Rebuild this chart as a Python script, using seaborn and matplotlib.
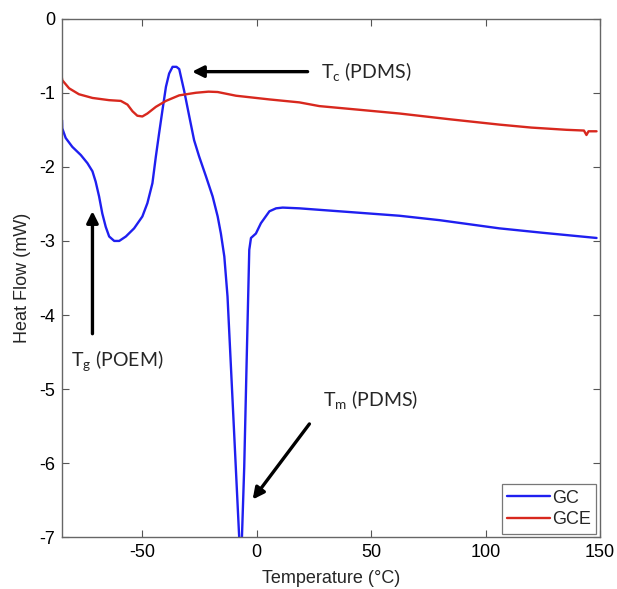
import matplotlib.pyplot as plt
import numpy as np
import pandas as pd
import seaborn as sns

# GC trace (blue)
gc_temp = [-85.0, -84.9, -83.4, -80.5, -76.8, -73.9, -71.7, -70.3, -68.8, -67.4,
           -65.9, -64.4, -62.2, -60.0, -57.1, -53.5, -49.9, -47.7, -45.5, -44.0,
           -42.6, -41.1, -39.6, -38.2, -36.7, -35.0, -33.8, -31.6, -29.4, -27.3,
           -25.1, -22.1, -19.2, -17.0, -15.6, -14.1, -12.7, -10.5, -8.75, -7.6,
           -7.0, -6.4, -5.4, -4.4, -3.2, -2.45, -0.3, 1.9, 5.6, 8.5,
           11.4, 18.7, 27.4, 45.0, 62.4, 80.0, 106.0, 125.0, 148.5]
gc_flow = [-1.37, -1.48, -1.61, -1.73, -1.84, -1.95, -2.06, -2.20, -2.40, -2.63,
           -2.81, -2.94, -3.00, -3.00, -2.94, -2.83, -2.67, -2.49, -2.22, -1.86,
           -1.55, -1.23, -0.92, -0.74, -0.65, -0.65, -0.68, -0.98, -1.32, -1.64,
           -1.86, -2.13, -2.40, -2.67, -2.90, -3.21, -3.75, -5.15, -6.27, -7.00,
           -7.30, -7.00, -6.05, -4.70, -3.12, -2.96, -2.90, -2.76, -2.60, -2.56,
           -2.55, -2.56, -2.58, -2.62, -2.66, -2.72, -2.83, -2.89, -2.96]

# GCE trace (red)
gce_temp = [-85.1, -84.9, -81.9, -77.6, -71.7, -64.4, -59.3, -56.4, -54.2, -52.1,
            -49.9, -47.7, -44.0, -39.6, -33.8, -26.5, -21.0, -17.0, -9.0, 5.6,
            18.7, 27.4, 45.0, 62.4, 85.0, 106.1, 120.0, 135.3, 143.0, 144.1,
            145.0, 148.5]
gce_flow = [-0.79, -0.83, -0.94, -1.02, -1.07, -1.10, -1.11, -1.16, -1.25, -1.31,
            -1.32, -1.28, -1.19, -1.11, -1.035, -1.00, -0.985, -0.99, -1.04, -1.09,
            -1.13, -1.18, -1.23, -1.28, -1.36, -1.43, -1.47, -1.50, -1.51, -1.57,
            -1.52, -1.52]

series_names = ["GC", "GCE"]
colors = {"GC": "#1f1ff0", "GCE": "#d8281e"}

x_ticks = [-50, 0, 50, 100, 150]
y_ticks = [0, -1, -2, -3, -4, -5, -6, -7]

df = pd.concat([
    pd.DataFrame({"Temperature": gc_temp, "Heat Flow": gc_flow, "sample": "GC"}),
    pd.DataFrame({"Temperature": gce_temp, "Heat Flow": gce_flow, "sample": "GCE"}),
])

sns.set_style("ticks")
plt.rcParams["font.family"] = ["Liberation Sans", "DejaVu Sans"]
plt.rcParams["axes.unicode_minus"] = False

fig = plt.figure(figsize=(6.17, 5.89), dpi=100)
ax = fig.add_axes([0.1005, 0.0878, 0.8719, 0.8805])

sns.lineplot(data=df, x="Temperature", y="Heat Flow", hue="sample",
             hue_order=series_names, palette=colors, sort=False, estimator=None,
             linewidth=1.7, ax=ax)

ax.set_xlim(-85, 150)
ax.set_ylim(-7, 0)
ax.set_xticks(x_ticks)
ax.set_yticks(y_ticks)
ax.tick_params(direction="in", length=5, width=0.8, colors="#555555",
               labelcolor="black", labelsize=13, top=True, right=True, pad=5)
for spine in ax.spines.values():
    spine.set_edgecolor("#666666")
    spine.set_linewidth(1.0)
    spine.set_visible(True)

ax.set_xlabel("Temperature (°C)", fontsize=13, labelpad=6)
ax.set_ylabel("Heat Flow (mW)", fontsize=13, labelpad=6)

ann_font = ["Lato", "DejaVu Sans"]
arrow = dict(arrowstyle="-|>", color="black", lw=2.4, mutation_scale=17)
ax.annotate("", xy=(-29.4, -0.715), xytext=(23.5, -0.715), arrowprops=arrow)
ax.text(28.3, -0.72, r"T$_\mathregular{c}$ (PDMS)", fontsize=14, family=ann_font,
        va="center", ha="left")
ax.annotate("", xy=(-71.7, -2.56), xytext=(-71.7, -4.29), arrowprops=arrow)
ax.text(-81.2, -4.63, r"T$_\mathregular{g}$ (POEM)", fontsize=14, family=ann_font,
        va="center", ha="left")
ax.annotate("", xy=(-2.45, -6.52), xytext=(23.8, -5.44), arrowprops=arrow)
ax.text(28.9, -5.15, r"T$_\mathregular{m}$ (PDMS)", fontsize=14, family=ann_font,
        va="center", ha="left")

leg = ax.legend(loc="lower right", fontsize=13, frameon=True, fancybox=False,
                handlelength=2.4, handletextpad=0.1, borderpad=0.3,
                labelspacing=0.25, borderaxespad=0.2)
leg.get_frame().set_edgecolor("#555555")
leg.get_frame().set_linewidth(0.9)
leg.set_title(None)

fig.savefig("out.png", dpi=100)
